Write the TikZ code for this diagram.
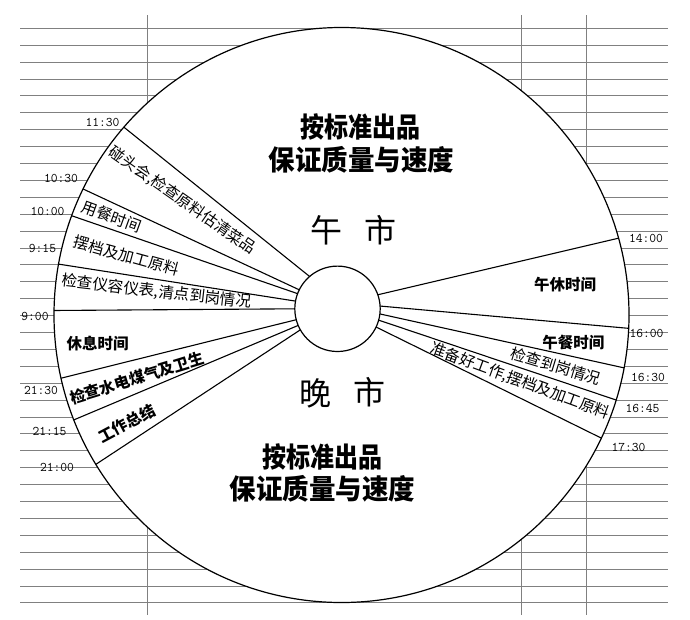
\documentclass[tikz,border=0pt]{standalone}
\usepackage{graphicx}
\usepackage{fontspec}
\newfontfamily\cjk{Noto Sans CJK SC}
\usetikzlibrary{calc}
\tikzset{
  gridline/.style={draw=black!50, line width=0.9pt},
  rim/.style={draw=black, line width=1.2pt, fill=white},
  spoke/.style={draw=black, line width=1.1pt},
  timelbl/.style={font=\ttfamily\fontsize{13.2}{13.2}\selectfont, inner sep=0pt, text=black},
  songlbl/.style={font=\cjk\fontsize{15.5}{15.5}\selectfont, inner sep=0pt},
  heilbl/.style={font=\cjk\bfseries\fontsize{15.5}{15.5}\selectfont, inner sep=0pt},
  bigA/.style={font=\cjk\bfseries\fontsize{24}{24}\selectfont, inner sep=0pt},
  bigB/.style={font=\cjk\bfseries\fontsize{26.5}{26.5}\selectfont, inner sep=0pt},
  marketlbl/.style={font=\cjk\fontsize{32}{32}\selectfont, inner sep=0pt},
}
\begin{document}
\begin{tikzpicture}[x=1pt,y=-1pt]
\useasboundingbox[fill=white] (0,0) rectangle (690,619);
% spreadsheet grid
\foreach \k in {0,...,34}{
  \draw[gridline] (20,28.3+16.9*\k) -- (668,28.3+16.9*\k);
}
\foreach \xx in {147.7,521.7,586.3}{
  \draw[gridline] (\xx,15) -- (\xx,615);
}
% circles
\coordinate (O) at (341.5,315);
\coordinate (I) at (337.5,308.8);
\draw[rim] (O) circle[radius=287.5];
% spokes: name / inner angle / outer angle
\foreach \nm/\ai/\ao in {La/-130.8/-139.2, Lb/-153.6/-154.0, Lc/-159.2/-159.8, Ld/-169.6/-169.8,
                         Le/-180/-179.1, Lf/-194.8/-192.7, Lg/-202.9/-201.4, Lh/-209.5/-211.3,
                         Ra/-19.2/-15.5, Rb/-3.7/2.66, Rc/6.9/10.6, Rd/15.4/17.2, Re/25.3/25.35}{
  \coordinate (\nm-in) at ($(I)+(\ai:42.7)$);
  \coordinate (\nm-out) at ($(O)+(\ao:287.5)$);
  \draw[spoke] (\nm-in) -- (\nm-out);
}
\draw[rim] (I) circle[radius=42.7];
% big texts
\node[bigA] (t1) at (360,126.7) {\scalebox{1}[1.15]{按标准出品}};
\node[bigB] (t2) at (361.7,160) {\scalebox{1}[1.05]{保证质量与速度}};
\node[bigA] (b1) at (322.5,456.7) {\scalebox{1}[1.15]{按标准出品}};
\node[bigB] (b2) at (322.5,489) {\scalebox{1}[1.05]{保证质量与速度}};
\node[marketlbl] (wu) at (326.7,230.8) {午};
\node[marketlbl] (shiA) at (380,230) {市};
\node[marketlbl] (wan) at (315,393.3) {晚};
\node[marketlbl] (shiB) at (369,392.5) {市};
% sector labels
\node[songlbl, rotate=-35] (s1) at (182.5,200.5) {碰头会,检查原料估清菜品};
\node[songlbl, rotate=-20] (s2) at (111.7,216.7) {用餐时间};
\node[songlbl, rotate=-15.5] (s3) at (126.7,255.8) {摆档及加工原料};
\node[songlbl, rotate=-6.5] (s4) at (156.7,291.7) {检查仪容仪表,清点到岗情况};
\node[heilbl] (s5) at (97.5,344) {休息时间};
\node[heilbl, rotate=17] (s6) at (137,378) {检查水电煤气及卫生};
\node[heilbl, rotate=28] (s7) at (126.7,423.3) {工作总结};
\node[heilbl] (s8) at (565,285) {午休时间};
\node[heilbl] (s9) at (573.3,342.5) {午餐时间};
\node[songlbl, rotate=-16.8] (s10) at (556,366) {检查到岗情况};
\node[songlbl, rotate=-20.3] (s11) at (520,381) {准备好工作,摆档及加工原料};
% time labels
\node[timelbl] (h1130) at (102.5,122) {11:30};
\node[timelbl] (h1030) at (61,178.5) {10:30};
\node[timelbl] (h1000) at (47.5,211) {10:00};
\node[timelbl] (h0915) at (42.5,248) {9:15};
\node[timelbl] (h0900) at (35,316) {9:00};
\node[timelbl] (h2130) at (41,390.5) {21:30};
\node[timelbl] (h2115) at (49.5,431) {21:15};
\node[timelbl] (h2100) at (57,467.5) {21:00};
\node[timelbl] (h1400) at (646,238) {14:00};
\node[timelbl] (h1600) at (646.5,333.5) {16:00};
\node[timelbl] (h1630) at (648,377.5) {16:30};
\node[timelbl] (h1645) at (642.5,408.5) {16:45};
\node[timelbl] (h1730) at (628.5,447.5) {17:30};
\end{tikzpicture}
\end{document}
